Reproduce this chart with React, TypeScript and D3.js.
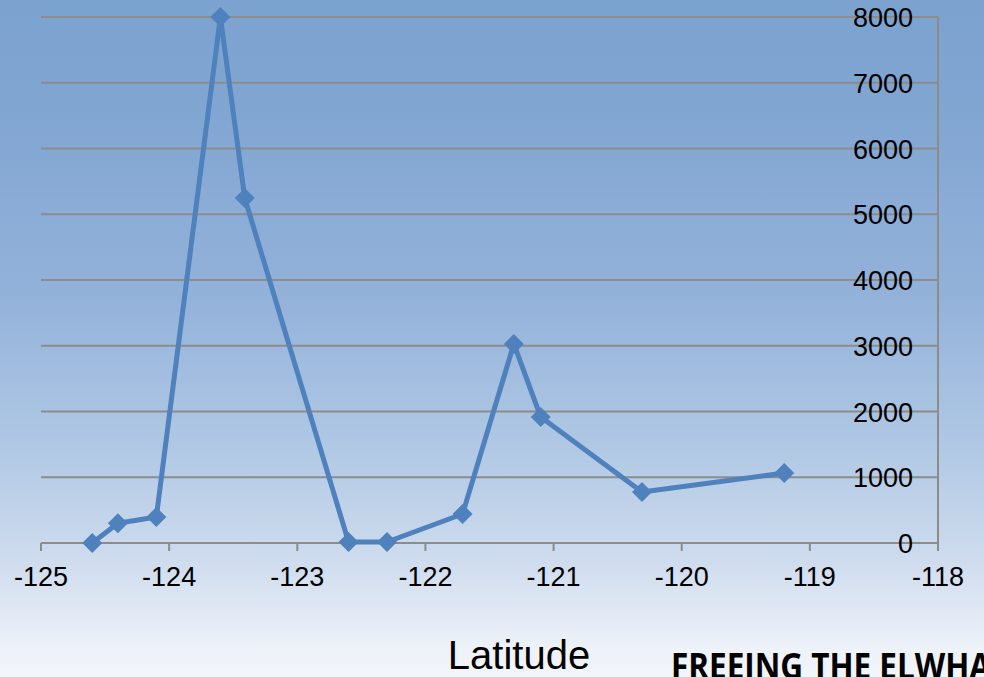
import React from "react";
import * as d3 from "d3";

const longitudes = [-124.6, -124.4, -124.1, -123.6, -123.41, -122.6, -122.3, -121.71, -121.31, -121.1, -120.31, -119.2];
const counts = [0, 300, 395, 8000, 5247, 15, 15, 441, 3027, 1916, 776, 1065];
const xTicks = [-125, -124, -123, -122, -121, -120, -119, -118];
const yTicks = [0, 1000, 2000, 3000, 4000, 5000, 6000, 7000, 8000];
const xTitle = "Latitude";
const footer = "FREEING THE ELWHA";

export default function App() {
  const W = 984, H = 677;
  const x = d3.scaleLinear().domain([-125, -118]).range([41, 938]);
  const y = d3.scaleLinear().domain([0, 8000]).range([543, 17]);
  const pts = longitudes.map((lon, i) => [x(lon), y(counts[i])] as [number, number]);
  const line = d3.line()(pts) || "";
  const diamond = (cx: number, cy: number, r: number) => `M${cx},${cy - r}L${cx + r},${cy}L${cx},${cy + r}L${cx - r},${cy}Z`;
  const font = "'Liberation Sans', Arial, sans-serif";
  return (
    <svg width={W} height={H} style={{ position: "absolute", left: 0, top: 0, display: "block" }}>
      <defs>
        <linearGradient id="bg" x1="0" y1="0" x2="0" y2="1">
          <stop offset="0" stopColor="#7ca2d0" />
          <stop offset="0.15" stopColor="#80a5d1" />
          <stop offset="0.44" stopColor="#93b2da" />
          <stop offset="0.66" stopColor="#b0c8e4" />
          <stop offset="0.83" stopColor="#cfdcee" />
          <stop offset="0.96" stopColor="#eef2f9" />
          <stop offset="1" stopColor="#f2f5fa" />
        </linearGradient>
      </defs>
      <rect x={0} y={0} width={W} height={H} fill="url(#bg)" />
      {yTicks.map((t) => (
        <line key={"g" + t} x1={x(-125)} x2={x(-118)} y1={y(t)} y2={y(t)} stroke="#8c8c8c" strokeWidth={2} />
      ))}
      <line x1={x(-118)} x2={x(-118)} y1={y(8000)} y2={y(0) + 8} stroke="#8c8c8c" strokeWidth={2} />
      {xTicks.map((t) => (
        <line key={"xt" + t} x1={x(t)} x2={x(t)} y1={y(0)} y2={y(0) + 8} stroke="#8c8c8c" strokeWidth={2} />
      ))}
      {yTicks.map((t) => (
        <text key={"yl" + t} x={913} y={y(t) + 10} textAnchor="end" fontFamily={font} fontSize={27} fill="#000">{t}</text>
      ))}
      {xTicks.map((t) => (
        <text key={"xl" + t} x={x(t)} y={586} textAnchor="middle" fontFamily={font} fontSize={27} fill="#000">{t}</text>
      ))}
      <path d={line} fill="none" stroke="#4f81bd" strokeWidth={5} strokeLinejoin="round" />
      {pts.map(([cx, cy], i) => (
        <path key={"m" + i} d={diamond(cx, cy, 10)} fill="#4f81bd" />
      ))}
      <text x={519} y={669} textAnchor="middle" fontFamily={font} fontSize={40} fill="#000">{xTitle}</text>
      <text x={671} y={679} fontFamily="'Open Sans', sans-serif" fontWeight="bold" fontSize={35} fill="#000" textLength={320} lengthAdjust="spacingAndGlyphs">{footer}</text>
    </svg>
  );
}
